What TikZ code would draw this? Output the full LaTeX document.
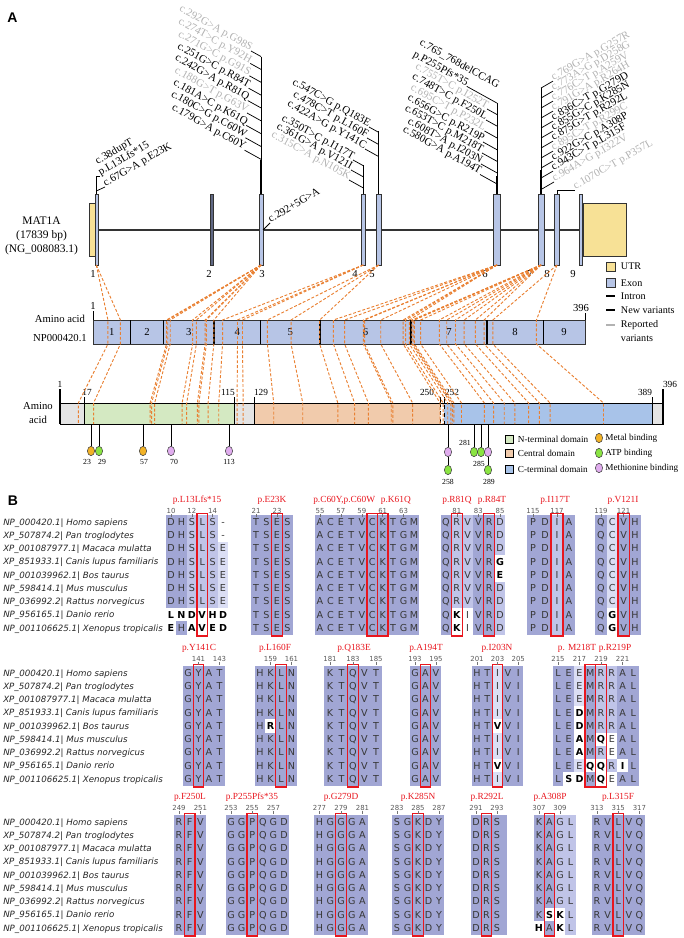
\documentclass[tikz,border=0pt]{standalone}
\usepackage{fontspec}
\setmainfont{Liberation Serif}
\newfontfamily\alnfont{DejaVu Sans}
\newfontfamily\panelfont{Liberation Sans}
\usetikzlibrary{shapes.geometric}

\definecolor{exonblue}{RGB}{183,197,230}
\definecolor{exondark}{RGB}{96,104,132}
\definecolor{utryellow}{RGB}{247,225,150}
\definecolor{vargray}{RGB}{178,178,178}
\definecolor{dashorange}{RGB}{233,128,50}
\definecolor{ntgreen}{RGB}{212,233,194}
\definecolor{cenorange}{RGB}{241,203,172}
\definecolor{ctblue}{RGB}{168,195,233}
\definecolor{endgray}{RGB}{228,228,228}
\definecolor{metalorange}{RGB}{242,178,38}
\definecolor{atpgreen}{RGB}{138,228,66}
\definecolor{metpurple}{RGB}{224,172,238}
\definecolor{mutred}{RGB}{232,22,30}
\definecolor{alnA}{RGB}{161,166,212}
\definecolor{alnB}{RGB}{192,196,232}
\definecolor{alnC}{RGB}{219,222,244}

\tikzset{
  newvar/.style={font=\fontsize{8.2}{10}\selectfont, inner sep=0.4pt, text=black},
  oldvar/.style={newvar, text=vargray},
  godown/.style={rotate=-29, anchor=base east},
  goup/.style={rotate=30, anchor=base west},
  lead/.style={line width=0.55pt},
  exon/.style={draw=black!80, line width=0.45pt, fill=exonblue},
  utr/.style={draw=black!80, line width=0.45pt, fill=utryellow},
  plaintext/.style={font=\fontsize{8}{9}\selectfont, inner sep=0.5pt},
  gene/.style={font=\fontsize{8.6}{10}\selectfont, inner sep=0.5pt},
  ticklbl/.style={font=\fontsize{7}{8}\selectfont, inner sep=0.5pt},
  sitelbl/.style={font=\fontsize{5.8}{7}\selectfont, inner sep=0.3pt},
  legA/.style={font=\fontsize{7.6}{9}\selectfont, inner sep=0.5pt, anchor=west},
  legtext/.style={font=\fontsize{6.9}{8}\selectfont, inner sep=0.5pt, anchor=west},
  vardash/.style={draw=dashorange, line width=0.7pt, dash pattern=on 2.2pt off 1.4pt},
  site/.style={ellipse, draw=black!75, line width=0.4pt, minimum width=5.4pt, minimum height=7pt, inner sep=0pt},
  stick/.style={line width=0.5pt},
  res/.style={font=\alnfont\fontsize{7.2}{8}\selectfont, text=black!78, inner sep=0pt, text height=5.2pt, text depth=0pt},
  species/.style={font=\alnfont\itshape\fontsize{6.5}{8}\selectfont, text=black!85, inner sep=0pt, anchor=west, text height=4.7pt, text depth=0pt},
  mutlbl/.style={font=\fontsize{7}{8}\selectfont, text=mutred, inner sep=0.5pt},
  posnum/.style={font=\alnfont\fontsize{5.2}{6}\selectfont, text=black!65, inner sep=0.3pt},
  redbox/.style={draw=mutred, line width=0.95pt},
  numtick/.style={draw=black!55, line width=0.35pt}
}

\newcommand{\hi}[1]{{\bfseries\color{black}#1}}
% name, x0, Y, row, step, residues
\newcommand{\alnrow}[6]{%
  \foreach \rr [count=\kk from 0] in {#6}{%
    \node[res] (#1-\kk) at ({#2+\kk*#5},{#3+13.25*#4}) {\rr};}}
\newcommand{\alnsame}[5]{%
  \foreach \ri in {0,...,8}{\alnrow{#1-\ri}{#2}{#3}{\ri}{#4}{#5}}}
\newcommand{\alnbg}[6]{%
  \fill[#6] ({#1+(#4-0.5)*#2},{#3-7.5}) rectangle ({#1+(#5+0.5)*#2},{#3+112.65});}
\newcommand{\alncell}[6]{%
  \fill[#6] ({#1+(#4-0.5)*#2},{#3+13.25*#5-6.65}) rectangle ({#1+(#4+0.5)*#2},{#3+13.25*#5+6.65});}
\newcommand{\alnred}[4]{%
  \draw[redbox] ({#1+(#4-0.5)*#2},{#3-8.5}) rectangle ({#1+(#4+0.5)*#2},{#3+114});}
\newcommand{\alnnum}[5]{%
  \foreach \cc/\nn in {#5}{%
    \node[posnum] (#1-\nn) at ({#2+\cc*#3},{#4}) {\nn};
    \draw[numtick] ({#2+\cc*#3},{#4+3.3}) -- ({#2+\cc*#3},{#4+5.6});}}
\newcommand{\specieslist}[2]{%
  \foreach \sname [count=\ri from 0] in {NP\_000420.1| Homo sapiens,XP\_507874.2| Pan troglodytes,XP\_001087977.1| Macaca mulatta,XP\_851933.1| Canis lupus familiaris,NP\_001039962.1| Bos taurus,NP\_598414.1| Mus musculus,NP\_036992.2| Rattus norvegicus,NP\_956165.1| Danio rerio,NP\_001106625.1| Xenopus tropicalis}{%
    \node[species] (#1-\ri) at (3,{#2+13.25*\ri}) {\sname};}}

\begin{document}
\begin{tikzpicture}[x=0.75pt,y=0.75pt,yscale=-1]
\useasboundingbox (0,0) rectangle (684,938);

\node[font=\panelfont\bfseries\fontsize{10.5}{12}\selectfont] (pA) at (12.5,18) {A};
\node[font=\panelfont\bfseries\fontsize{10.5}{12}\selectfont] (pB) at (13,501) {B};

% gene structure
\node[gene] (mat) at (41.5,221) {MAT1A};
\node[gene] (len) at (41.5,235.5) {(17839 bp)};
\node[gene] (ngid) at (41.5,250) {(NG\_008083.1)};
\draw[line width=0.8pt, black!80] (97.8,230) -- (579,230);
\draw[utr] (89.5,203) rectangle (94.8,256);
\draw[exon] (94.8,194) rectangle (97.8,265);
\draw[exon, fill=exondark] (210.5,194) rectangle (213.5,265);
\draw[exon] (259,194) rectangle (263,265);
\draw[exon] (361.6,194) rectangle (365,265);
\draw[exon] (376.4,194) rectangle (380.8,265);
\draw[exon] (493.4,194) rectangle (500.4,265);
\draw[exon] (538,194) rectangle (544,265);
\draw[exon] (554.6,194) rectangle (559,265);
\draw[exon] (579,194) rectangle (582,265);
\draw[utr] (583,203) rectangle (626,256);
\foreach \nn/\xx in {1/93,2/209,3/262,4/355,5/372,6/485,7/530,8/547,9/573}
  \node[plaintext] (x\nn) at (\xx,274) {\nn};
\coordinate (eb1) at (96.3,265);
\coordinate (eb3) at (261,265);
\coordinate (eb4) at (363.3,265);
\coordinate (eb5) at (378.6,265);
\coordinate (eb6) at (497,265);
\coordinate (eb7) at (541,265);
\coordinate (eb8) at (557,265);

% exon 1
\node[newvar, goup] (v38) at (97,165) {c.38dupT};
\node[newvar, goup] (vL13) at (100,176) {p.L13Lfs*15};
\node[newvar, goup] (vE23) at (105,187) {c.67G>A p.E23K};
\coordinate (e1top) at (96.3,194);
\coordinate (e1mid) at (96.3,191);
\draw[lead] (e1top) |- (vL13.base west);
\draw[lead] (e1mid) -- (vE23.base west);

% exon 3
\coordinate (v3top) at (261,57);
\coordinate (v3bot) at (261,194);
\draw[lead] (v3top) -- (v3bot);
\draw[line width=1.8pt] (261,160) -- (v3bot);
\node[oldvar, godown] (g98) at (251,51) {c.292G>A p.G98S};
\node[oldvar, godown] (y92) at (250.2,63.4) {c.274T>C p.Y92H};
\node[oldvar, godown] (g91) at (249.4,75.8) {c.271G>C p.G91S};
\node[newvar, godown] (r84) at (248.6,88.2) {c.251G>C p.R84T};
\node[newvar, godown] (r81) at (247.8,100.6) {c.242G>A p.R81Q};
\node[oldvar, godown] (g63) at (247,113) {c.188G>T p.G63V};
\node[newvar, godown] (k61) at (246.2,125.4) {c.181A>C p.K61Q};
\node[newvar, godown] (c60w) at (245.4,137.8) {c.180C>G p.C60W};
\node[newvar, godown] (c60y) at (244.6,150.2) {c.179G>A p.C60Y};
\foreach \nn in {g98,y92,g91,r84,r81,g63,k61,c60w,c60y}
  \draw[lead] (\nn.base east) -- (intersection cs: first line={(\nn.base west)--(\nn.base east)}, second line={(v3top)--(v3bot)});
\node[newvar, goup] (ivs) at (270,223) {c.292+5G>A};
\coordinate (e3side) at (263,230);
\draw[lead] (e3side) -- (ivs.base west);

% exons 4 and 5
\coordinate (v4top) at (363.3,165);
\coordinate (v4bot) at (363.3,194);
\coordinate (v5top) at (378.6,131);
\coordinate (v5bot) at (378.6,194);
\draw[lead] (v4top) -- (v4bot);
\draw[lead] (v5top) -- (v5bot);
\node[newvar, godown] (q183) at (369,127) {c.547C>G p.Q183E};
\node[newvar, godown] (l160) at (367,138) {c.478C>T p.L160F};
\node[newvar, godown] (y141) at (365,149) {c.422A>G p.Y141C};
\node[newvar, godown] (i117) at (353,160) {c.350T>C p.I117T};
\node[newvar, godown] (v121) at (351,170) {c.361G>A p.V121I};
\node[oldvar, godown] (n105) at (349,180) {c.315C>A p.N105K};
\foreach \nn in {q183,l160,y141}
  \draw[lead] (\nn.base east) -- (intersection cs: first line={(\nn.base west)--(\nn.base east)}, second line={(v5top)--(v5bot)});
\foreach \nn in {i117,v121,n105}
  \draw[lead] (\nn.base east) -- (intersection cs: first line={(\nn.base west)--(\nn.base east)}, second line={(v4top)--(v4bot)});

% exon 6
\coordinate (v6top) at (497,103);
\coordinate (v6bot) at (497,194);
\draw[lead] (v6top) -- (v6bot);
\draw[line width=1.8pt] (497,176) -- (v6bot);
\node[newvar, rotate=-29, anchor=base west] (p255) at (412,56) {p.P255Pfs*35};
\node[newvar, rotate=-29, anchor=base west] (d765) at ([shift={(6.3,-11.4)}]p255.base west) {c.765\_768delCCAG};
\node[oldvar, godown] (i252) at (487,109) {c.755T>C p.I252T};
\node[newvar, godown] (f250) at (486,120) {c.748T>C p.F250L};
\node[oldvar, godown] (p232) at (484.5,131) {c.695C>T p.P232L};
\node[newvar, godown] (r219) at (483,142) {c.656G>C p.R219P};
\node[newvar, godown] (m218) at (482,153) {c.653T>C p.M218T};
\node[newvar, godown] (i203) at (481,164) {c.608T>A p.I203N};
\node[newvar, godown] (a194) at (480,174.5) {c.580G>A p.A194T};
\foreach \nn in {p255,i252,f250,p232,r219,m218,i203,a194}
  \draw[lead] (\nn.base east) -- (intersection cs: first line={(\nn.base west)--(\nn.base east)}, second line={(v6top)--(v6bot)});

% exons 7 and 8
\coordinate (v7top) at (541,88);
\coordinate (v7bot) at (541,194);
\draw[lead] (v7top) -- (v7bot);
\draw[line width=1.8pt] (541,170) -- (v7bot);
\node[oldvar, goup] (g257) at (553,81.1) {c.769G>A p.G257R};
\node[oldvar, goup] (d258) at (553,91.1) {c.773A>G p.D258G};
\node[oldvar, goup] (a259) at (553,101.1) {c.776C>T p.A259V};
\node[oldvar, goup] (r264) at (553,111.1) {c.791G>A p.R264H};
\node[newvar, goup] (g279) at (553,121.1) {c.836C>T p.G279D};
\node[newvar, goup] (k285) at (553,131.1) {c.855G>C p.K285N};
\node[newvar, goup] (r292) at (553,141.1) {c.875G>T p.R292L};
\node[oldvar, goup] (r299) at (553,151.1) {c.895C>T p.R299C};
\node[newvar, goup] (a308) at (553,161.1) {c.922G>C p.A308P};
\node[newvar, goup] (l315) at (553,171.1) {c.943C>T p.L315F};
\node[oldvar, goup] (i322) at (554,182) {c.964A>G p.I322V};
\foreach \nn in {g257,d258,a259,r264,g279,k285,r292,r299,a308,l315,i322}
  \draw[lead] (intersection cs: first line={(\nn.base west)--(\nn.base east)}, second line={(v7top)--(v7bot)}) -- (\nn.base west);
\node[oldvar, goup] (p357) at (575,190) {c.1070C>T p.P357L};
\coordinate (e8top) at (557,194);
\draw[lead] (e8top) |- (p357.base west);

% legend of the gene
\draw[utr] (606,262) rectangle (615,271);
\node[legA] (lgu) at (620,266.7) {UTR};
\draw[exon] (606,278.5) rectangle (615,287.5);
\node[legA] (lge) at (620,283) {Exon};
\draw[line width=0.9pt] (606,296) -- (615,296);
\node[legA] (lgi) at (620,296) {Intron};
\draw[line width=1.1pt] (606,310) -- (615,310);
\node[legA] (lgn) at (620,310) {New variants};
\draw[line width=1.1pt, vargray] (606,325) -- (615,325);
\node[legA] (lgr) at (620,325) {Reported};
\node[legA] (lgr2) at (620,338.5) {variants};

% protein bar by exon
\draw[exon] (93,320) rectangle (585,344);
\foreach \xx in {130.6,260.7,543}
  \draw[line width=0.5pt] (\xx,320) -- (\xx,344);
\foreach \xx in {163.3,214,320,411,487}
  \draw[line width=1.1pt] (\xx,320) -- (\xx,344);
\foreach \nn/\xx in {1/111.8,2/147,3/188.7,4/237.4,5/290.4,6/365.5,7/449,8/515,9/564}
  \node[plaintext] (s\nn) at (\xx,332) {\nn};
\draw[line width=0.5pt] (93,311) -- (93,320);
\node[plaintext] (aa1) at (93,306) {1};
\draw[line width=0.5pt] (585,313) -- (585,320);
\node[plaintext] (aa396) at (581,308) {396};
\node[plaintext] (aalbl) at (60,319) {Amino acid};
\node[plaintext] (npid) at (60,338) {NP000420.1};

% protein bar by domain
\fill[endgray] (60,403) rectangle (84.4,424);
\fill[ntgreen] (84.4,403) rectangle (234.5,424);
\fill[endgray] (234.5,403) rectangle (254.5,424);
\fill[cenorange] (254.5,403) rectangle (440,424);
\fill[white] (440,403) rectangle (444,424);
\fill[ctblue] (444,403) rectangle (652.5,424);
\fill[endgray] (652.5,403) rectangle (663,424);
\draw[line width=0.6pt] (60,403) rectangle (663,424);
\draw[dashed, line width=0.4pt] (440,403) rectangle (444,424);
\foreach \xx/\yy in {60/389,84.4/397,234.5/397,254.5/397,652.5/397,663/389}
  \draw[line width=0.9pt] (\xx,\yy) -- (\xx,424);
\foreach \xx in {440,444}
  \draw[line width=0.5pt] (\xx,397) -- (\xx,403);
\node[ticklbl] (t1) at (60,384) {1};
\node[ticklbl] (t17) at (87,392) {17};
\node[ticklbl] (t115) at (228,392) {115};
\node[ticklbl] (t129) at (261,392) {129};
\node[ticklbl] (t250) at (427,392) {250};
\node[ticklbl] (t252) at (452,392) {252};
\node[ticklbl] (t389) at (645,392) {389};
\node[ticklbl] (t396) at (670,384) {396};
\node[plaintext] (dl1) at (38,406) {Amino};
\node[plaintext] (dl2) at (38,420) {acid};

% variant positions carried from exons to both bars
\foreach \ee/\pp in {1/13,1/23,3/60,3/61,3/63,3/81,3/84,3/91,3/92,3/98,4/105,4/117,4/121,5/141,5/160,5/183,6/194,6/203,6/218,6/219,6/232,6/250,6/252,6/255,7/257,7/258,7/259,7/264,7/279,7/285,7/292,7/299,7/308,7/315,8/322,8/357}{%
  \coordinate (a\pp) at ({93+1.2456*(\pp-1)},320);
  \coordinate (b\pp) at ({93+1.2456*(\pp-1)},344);
  \coordinate (c\pp) at ({60+1.5266*(\pp-1)},403);
  \coordinate (d\pp) at ({60+1.5266*(\pp-1)},424);
  \draw[vardash] (eb\ee) -- (a\pp) -- (b\pp) -- (c\pp) -- (d\pp);
}

% binding sites
\coordinate (dbot) at (0,424);
\node[site, fill=metalorange] (s23) at (91,451) {};
\node[site, fill=atpgreen] (s29) at (99,451) {};
\node[site, fill=metalorange] (s57) at (143,451) {};
\node[site, fill=metpurple] (s70) at (171,451) {};
\node[site, fill=metpurple] (s113) at (229,451) {};
\node[site, fill=metpurple] (s258) at (448,452) {};
\node[site, fill=atpgreen] (s258b) at (448,470) {};
\node[site, fill=atpgreen] (s281) at (474,452) {};
\node[site, fill=atpgreen] (s283) at (481,452) {};
\node[site, fill=metpurple] (s285) at (488,452) {};
\node[site, fill=atpgreen] (s289) at (488,470) {};
\foreach \nn in {s23,s29,s57,s70,s113,s258,s281,s283,s285}
  \draw[stick] (\nn) -- (\nn |- dbot);
\draw[stick] (s258) -- (s258b);
\draw[stick] (s285) -- (s289);
\node[sitelbl] (l23) at (87,462) {23};
\node[sitelbl] (l29) at (102,462) {29};
\node[sitelbl] (l57) at (144,462) {57};
\node[sitelbl] (l70) at (174,462) {70};
\node[sitelbl] (l113) at (229,462) {113};
\node[sitelbl] (l258) at (448,482) {258};
\node[sitelbl] (l281) at (465,443) {281};
\node[sitelbl] (l285) at (479,464) {285};
\node[sitelbl] (l289) at (489,482) {289};

% legend of the domains
\draw[fill=ntgreen, line width=0.5pt] (505,435) rectangle (513,443);
\draw[fill=cenorange, line width=0.5pt] (505,449.5) rectangle (513,457.5);
\draw[fill=ctblue, line width=0.5pt] (505,465) rectangle (513,473);
\node[legtext] (ldn) at (517,439) {N-terminal domain};
\node[legtext] (ldc) at (517,453.5) {Central domain};
\node[legtext] (ldt) at (517,469) {C-terminal domain};
\node[site, fill=metalorange] (lsm) at (599,438) {};
\node[site, fill=atpgreen] (lsa) at (599,453) {};
\node[site, fill=metpurple] (lsh) at (599,468) {};
\node[legtext] (ltm) at (604.5,438) {Metal binding};
\node[legtext] (lta) at (604.5,453) {ATP binding};
\node[legtext] (lth) at (604.5,468) {Methionine binding};

% ---- alignments, first row
\specieslist{spa}{522}
\alnbg{171}{10.4}{522}{0}{1}{alnA}
\alnbg{171}{10.4}{522}{2}{4}{alnB}
\alnbg{171}{10.4}{522}{5}{5}{alnC}
\foreach \cc/\ri in {5/0,5/1,0/7,1/7,2/7,3/7,4/7,5/7,0/8,2/8,3/8,4/8,5/8}{\alncell{171}{10.4}{522}{\cc}{\ri}{white}}
\alnrow{b1-0}{171}{522}{0}{10.4}{D,H,S,L,S,-}
\alnrow{b1-1}{171}{522}{1}{10.4}{D,H,S,L,S,-}
\foreach \ri in {2,...,6}{\alnrow{b1-\ri}{171}{522}{\ri}{10.4}{D,H,S,L,S,E}}
\alnrow{b1-7}{171}{522}{7}{10.4}{\hi{L},\hi{N},\hi{D},\hi{V},\hi{H},\hi{D}}
\alnrow{b1-8}{171}{522}{8}{10.4}{\hi{E},H,\hi{A},\hi{V},\hi{E},\hi{D}}
\alnred{171}{10.4}{522}{3}
\alnnum{n1}{171}{10.4}{511}{0/10,2/12,4/14}
\node[mutlbl] (m1) at (197,500) {p.L13Lfs*15};

\alnbg{256}{10.5}{522}{0}{3}{alnA}
\alnsame{b2}{256}{522}{10.5}{T,S,E,S}
\alnred{256}{10.5}{522}{2}
\alnnum{n2}{256}{10.5}{511}{0/21,2/23}
\node[mutlbl] (m2) at (272,500) {p.E23K};

\alnbg{320}{10.45}{522}{0}{9}{alnA}
\alnsame{b3}{320}{522}{10.45}{A,C,E,T,V,C,K,T,G,M}
\alnred{320}{10.45}{522}{5}
\alnred{320}{10.45}{522}{6}
\alnnum{n3}{320}{10.45}{511}{0/55,2/57,4/59,6/61,8/63}
\node[mutlbl, anchor=east] (m3a) at (376,500) {p.C60Y,p.C60W};
\node[mutlbl, anchor=west] (m3b) at (380,500) {p.K61Q};

\alnbg{446}{10.8}{522}{0}{0}{alnA}
\alnbg{446}{10.8}{522}{1}{2}{alnB}
\alnbg{446}{10.8}{522}{3}{4}{alnA}
\alnbg{446}{10.8}{522}{5}{5}{alnB}
\foreach \cc/\ri in {5/3,5/4,1/7,2/7,1/8,2/8}{\alncell{446}{10.8}{522}{\cc}{\ri}{white}}
\foreach \ri in {0,1,2,5,6}{\alnrow{b4-\ri}{446}{522}{\ri}{10.8}{Q,R,V,V,R,D}}
\alnrow{b4-3}{446}{522}{3}{10.8}{Q,R,V,V,R,\hi{G}}
\alnrow{b4-4}{446}{522}{4}{10.8}{Q,R,V,V,R,\hi{E}}
\alnrow{b4-7}{446}{522}{7}{10.8}{Q,\hi{K},I,V,R,D}
\alnrow{b4-8}{446}{522}{8}{10.8}{Q,\hi{K},I,V,R,D}
\alnred{446}{10.8}{522}{1}
\alnred{446}{10.8}{522}{4}
\alnnum{n4}{446}{10.8}{511}{1/81,3/83,5/85}
\node[mutlbl] (m4a) at (457,500) {p.R81Q};
\node[mutlbl] (m4b) at (492,500) {p.R84T};

\alnbg{533}{12}{522}{0}{1}{alnA}
\alnbg{533}{12}{522}{2}{2}{alnB}
\alnbg{533}{12}{522}{3}{3}{alnA}
\alnsame{b5}{533}{522}{12}{P,D,I,A}
\alnred{533}{12}{522}{2}
\alnnum{n5}{533}{12}{511}{0/115,2/117}
\node[mutlbl] (m5) at (555,500) {p.I117T};

\alnbg{601}{11.3}{522}{0}{0}{alnA}
\alnbg{601}{11.3}{522}{1}{1}{alnC}
\alnbg{601}{11.3}{522}{2}{3}{alnA}
\foreach \cc/\ri in {1/7,1/8}{\alncell{601}{11.3}{522}{\cc}{\ri}{white}}
\foreach \ri in {0,...,6}{\alnrow{b6-\ri}{601}{522}{\ri}{11.3}{Q,C,V,H}}
\foreach \ri in {7,8}{\alnrow{b6-\ri}{601}{522}{\ri}{11.3}{Q,\hi{G},V,H}}
\alnred{601}{11.3}{522}{2}
\alnnum{n6}{601}{11.3}{511}{0/119,2/121}
\node[mutlbl] (m6) at (623,500) {p.V121I};

% ---- second row
\specieslist{spb}{673}
\alnbg{188}{10.5}{673}{0}{3}{alnA}
\alnsame{b7}{188}{673}{10.5}{G,Y,A,T}
\alnred{188}{10.5}{673}{1}
\alnnum{n7}{188}{10.5}{659}{1/141,3/143}
\node[mutlbl] (m7) at (199,648) {p.Y141C};

\alnbg{260}{10.5}{673}{0}{3}{alnA}
\alncell{260}{10.5}{673}{1}{4}{white}
\foreach \ri in {0,1,2,3,5,6,7,8}{\alnrow{b8-\ri}{260}{673}{\ri}{10.5}{H,K,L,N}}
\alnrow{b8-4}{260}{673}{4}{10.5}{H,\hi{R},L,N}
\alnred{260}{10.5}{673}{2}
\alnnum{n8}{260}{10.5}{659}{1/159,3/161}
\node[mutlbl] (m8) at (275,648) {p.L160F};

\alnbg{330}{11.5}{673}{0}{4}{alnA}
\alnsame{b9}{330}{673}{11.5}{K,T,Q,V,T}
\alnred{330}{11.5}{673}{2}
\alnnum{n9}{330}{11.5}{659}{0/181,2/183,4/185}
\node[mutlbl] (m9) at (354,648) {p.Q183E};

\alnbg{415}{10.5}{673}{0}{2}{alnA}
\alnsame{b10}{415}{673}{10.5}{G,A,V}
\alnred{415}{10.5}{673}{1}
\alnnum{n10}{415}{10.5}{659}{0/193,2/195}
\node[mutlbl] (m10) at (426,648) {p.A194T};

\alnbg{477}{10.3}{673}{0}{1}{alnA}
\alnbg{477}{10.3}{673}{2}{2}{alnC}
\alnbg{477}{10.3}{673}{3}{4}{alnA}
\foreach \cc/\ri in {2/4,2/7}{\alncell{477}{10.3}{673}{\cc}{\ri}{white}}
\foreach \ri in {0,1,2,3,5,6,8}{\alnrow{b11-\ri}{477}{673}{\ri}{10.3}{H,T,I,V,I}}
\foreach \ri in {4,7}{\alnrow{b11-\ri}{477}{673}{\ri}{10.3}{H,T,\hi{V},V,I}}
\alnred{477}{10.3}{673}{2}
\alnnum{n11}{477}{10.3}{659}{0/201,2/203,4/205}
\node[mutlbl] (m11) at (497,648) {p.I203N};

\alnbg{558}{10.76}{673}{0}{1}{alnA}
\alnbg{558}{10.76}{673}{2}{2}{alnC}
\alnbg{558}{10.76}{673}{3}{3}{alnA}
\alnbg{558}{10.76}{673}{4}{5}{alnB}
\alnbg{558}{10.76}{673}{6}{7}{alnA}
\foreach \cc/\ri in {2/3,2/4,2/5,2/6,4/5,5/5,5/6,3/7,4/7,6/7,1/8,2/8,4/8,5/8}{\alncell{558}{10.76}{673}{\cc}{\ri}{white}}
\foreach \ri in {0,1,2}{\alnrow{b12-\ri}{558}{673}{\ri}{10.76}{L,E,E,M,R,R,A,L}}
\foreach \ri in {3,4}{\alnrow{b12-\ri}{558}{673}{\ri}{10.76}{L,E,\hi{D},M,R,R,A,L}}
\alnrow{b12-5}{558}{673}{5}{10.76}{L,E,\hi{A},M,\hi{Q},E,A,L}
\alnrow{b12-6}{558}{673}{6}{10.76}{L,E,\hi{A},M,R,E,A,L}
\alnrow{b12-7}{558}{673}{7}{10.76}{L,E,E,\hi{Q},\hi{Q},R,\hi{I},L}
\alnrow{b12-8}{558}{673}{8}{10.76}{L,\hi{S},\hi{D},M,\hi{Q},E,A,L}
\alnred{558}{10.76}{673}{3}
\alnred{558}{10.76}{673}{4}
\alnnum{n12}{558}{10.76}{659}{0/215,2/217,4/219,6/221}
\node[mutlbl] (m12a) at (577,648) {p. M218T};
\node[mutlbl] (m12b) at (615,648) {p.R219P};

% ---- third row
\specieslist{spc}{822}
\alnbg{179}{10.7}{822}{0}{2}{alnA}
\alnsame{b13}{179}{822}{10.7}{R,F,V}
\alnred{179}{10.7}{822}{1}
\alnnum{n13}{179}{10.7}{808}{0/249,2/251}
\node[mutlbl] (m13) at (190,797) {p.F250L};

\alnbg{231}{10.6}{822}{0}{5}{alnA}
\alnsame{b14}{231}{822}{10.6}{G,G,P,Q,G,D}
\alnred{231}{10.6}{822}{2}
\alnnum{n14}{231}{10.6}{808}{0/253,2/255,4/257}
\node[mutlbl] (m14) at (252,797) {p.P255Pfs*35};

\alnbg{319.5}{10.75}{822}{0}{4}{alnA}
\alnsame{b15}{319.5}{822}{10.75}{H,G,G,G,A}
\alnred{319.5}{10.75}{822}{2}
\alnnum{n15}{319.5}{10.75}{808}{0/277,2/279,4/281}
\node[mutlbl] (m15) at (341,797) {p.G279D};

\alnbg{397}{10.5}{822}{0}{4}{alnA}
\alnsame{b16}{397}{822}{10.5}{S,G,K,D,Y}
\alnred{397}{10.5}{822}{2}
\alnnum{n16}{397}{10.5}{808}{0/283,2/285,4/287}
\node[mutlbl] (m16) at (418,797) {p.K285N};

\alnbg{476}{10.5}{822}{0}{2}{alnA}
\fill[alnA] (502,814.5) rectangle (507,934.65);
\alnsame{b17}{476}{822}{10.5}{D,R,S}
\alnred{476}{10.5}{822}{1}
\alnnum{n17}{476}{10.5}{808}{0/291,2/293}
\node[mutlbl] (m17) at (487,797) {p.R292L};

\alnbg{539}{10.5}{822}{0}{1}{alnA}
\alnbg{539}{10.5}{822}{2}{3}{alnB}
\foreach \cc/\ri in {1/7,2/7,0/8,2/8}{\alncell{539}{10.5}{822}{\cc}{\ri}{white}}
\foreach \ri in {0,...,6}{\alnrow{b18-\ri}{539}{822}{\ri}{10.5}{K,A,G,L}}
\alnrow{b18-7}{539}{822}{7}{10.5}{K,\hi{S},\hi{K},L}
\alnrow{b18-8}{539}{822}{8}{10.5}{\hi{H},A,\hi{K},L}
\alnred{539}{10.5}{822}{1}
\alnnum{n18}{539}{10.5}{808}{0/307,2/309}
\node[mutlbl] (m18) at (550,797) {p.A308P};

\alnbg{597}{10.6}{822}{0}{4}{alnA}
\alnsame{b19}{597}{822}{10.6}{R,V,L,V,Q}
\alnred{597}{10.6}{822}{2}
\alnnum{n19}{597}{10.6}{808}{0/313,2/315,4/317}
\node[mutlbl] (m19) at (618,797) {p.L315F};
\end{tikzpicture}
\end{document}
